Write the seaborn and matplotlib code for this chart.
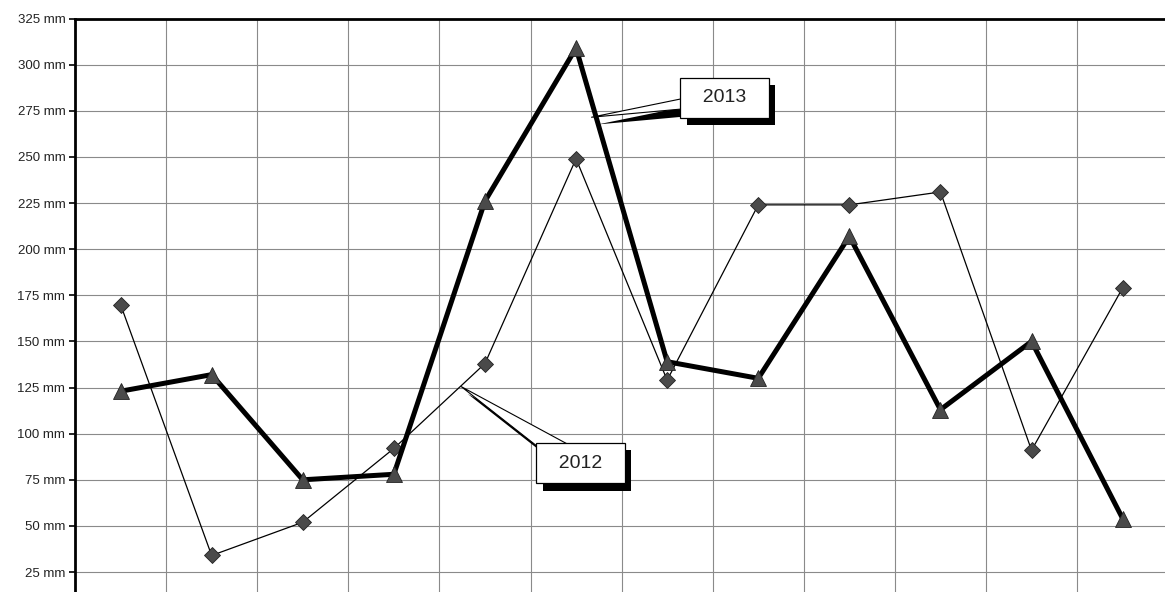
import matplotlib
matplotlib.use("Agg")
import matplotlib.pyplot as plt
import matplotlib.patheffects as pe
import numpy as np
import pandas as pd
import seaborn as sns

# Monthly precipitation (mm)
months = ["Jan", "Feb", "Mar", "Apr", "May", "Jun",
          "Jul", "Aug", "Sep", "Oct", "Nov", "Dec"]
rain_2012 = [170, 34, 52, 92, 138, 249, 129, 224, 224, 231, 91, 179]
rain_2013 = [123, 132, 75, 78, 226, 309, 139, 130, 207, 113, 150, 54]
y_ticks = [25, 50, 75, 100, 125, 150, 175, 200, 225, 250, 275, 300, 325]

df = pd.DataFrame({
    "pos": np.arange(len(months)),
    "month": months,
    "2012": rain_2012,
    "2013": rain_2013,
})

sns.set_style("white")
plt.rcParams["font.family"] = ["Liberation Sans", "DejaVu Sans"]

W, H = 1165, 592
fig = plt.figure(figsize=(W / 100, H / 100), dpi=100)
ax = fig.add_axes([75 / W, 0, 1 - 75 / W, 1 - 18.5 / H])

# grid: horizontal at every tick, vertical between categories
for yv in y_ticks:
    ax.axhline(yv, color="#8a8a8a", lw=0.8, zorder=0)
for k in range(len(months) - 1):
    ax.axvline(k + 0.5, color="#8a8a8a", lw=0.8, zorder=0)

sns.lineplot(data=df, x="pos", y="2012", ax=ax, color="black", lw=0.9,
             marker="D", markersize=8.1, markerfacecolor="#4a4a4a",
             markeredgecolor="#222222", markeredgewidth=0.6, zorder=3)
sns.lineplot(data=df, x="pos", y="2013", ax=ax, color="black", lw=3.6,
             marker="^", markersize=12, markerfacecolor="#4a4a4a",
             markeredgecolor="#222222", markeredgewidth=0.6, zorder=4)

ax.set_xlim(-0.5, -0.5 + (W - 75) / 91.1)
ax.set_ylim(14.2, 325)
ax.set_yticks(y_ticks)
ax.set_yticklabels([f"{v} mm" for v in y_ticks])
ax.set_xticks([])
ax.set_xlabel("")
ax.set_ylabel("")
ax.tick_params(axis="y", direction="out", length=4, width=1.2, color="black",
               labelsize=9.5, labelcolor="#222222", pad=3, left=True)

for side in ("right", "bottom"):
    ax.spines[side].set_visible(False)
for side in ("left", "top"):
    ax.spines[side].set_color("black")
    ax.spines[side].set_linewidth(2)

# callouts with a solid drop shadow
shadow = [pe.SimplePatchShadow(offset=(4.6, -5.2), shadow_rgbFace="black", alpha=1.0),
          pe.Normal()]


def callout(label, point, text_pos, relpos, tail):
    ann = ax.annotate(
        f"  {label}  ", xy=point, xytext=text_pos,
        ha="center", va="center", fontsize=14, color="#222222", zorder=6,
        bbox=dict(boxstyle="square,pad=0.6", fc="white", ec="black", lw=0.9),
        arrowprops=dict(arrowstyle=f"wedge,tail_width={tail},shrink_factor=0.5",
                        fc="white", ec="black", lw=0.8, relpos=relpos,
                        patchA=None, shrinkA=0, shrinkB=0),
    )
    ann.get_bbox_patch().set_path_effects(shadow)
    ann.arrow_patch.set_path_effects(shadow)


callout("2013", (5.17, 271.5), (6.63, 282), (0.05, 0.26), 0.6)
callout("2012", (3.74, 125.5), (5.05, 84), (0.28, 0.95), 1.1)

fig.savefig("out.png", dpi=100)
